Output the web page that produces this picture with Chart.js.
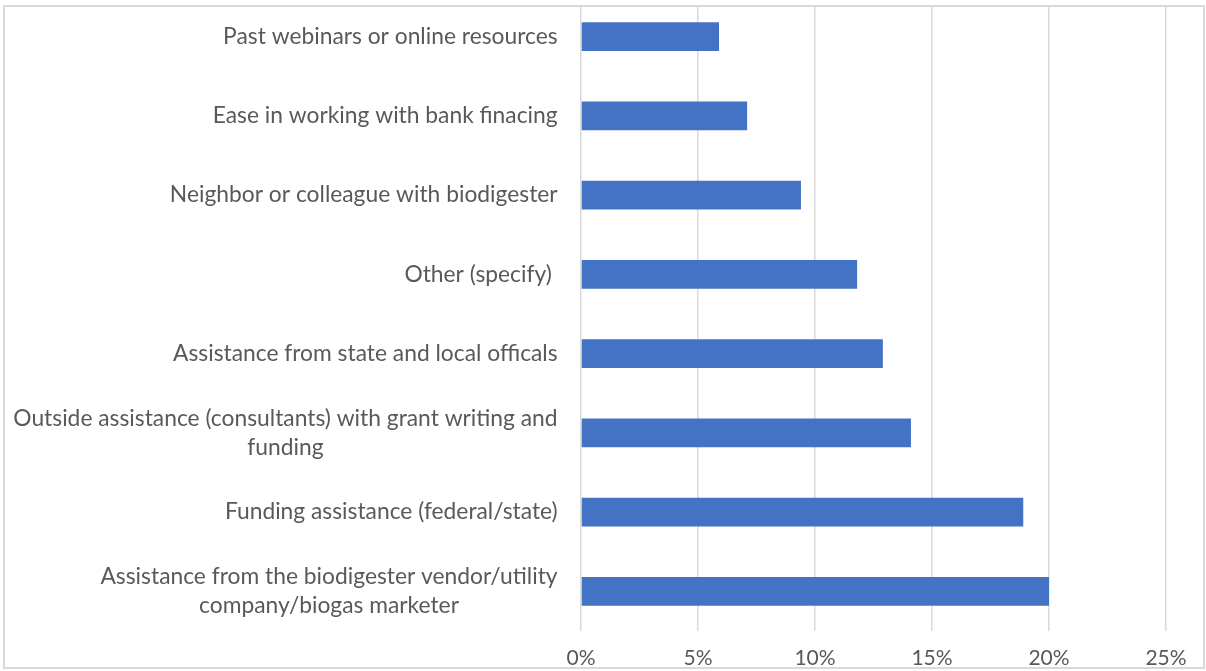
<!DOCTYPE html>
<html>
<head>
<meta charset="utf-8">
<script src="https://cdn.jsdelivr.net/npm/chart.js@4"></script>
<style>
  html, body { margin: 0; padding: 0; background: #ffffff; }
  #wrap { position: relative; width: 1206px; height: 671px; overflow: hidden; background: #fff; }
  #inner { position: absolute; left: 0; top: -4px; width: 1206px; height: 675px; }
  #topcover { position: absolute; left: 0; top: 0; width: 1206px; height: 5px; background: #fff; }
  #frame { position: absolute; left: 3px; top: 5px; width: 1198px; height: 660px; border: 2px solid #d9d9d9; pointer-events: none; }
</style>
</head>
<body>
<div id="wrap">
  <div id="inner"><canvas id="c"></canvas></div>
  <div id="topcover"></div>
  <div id="frame"></div>
</div>
<script>
const categories = [
  "Past webinars or online resources",
  "Ease in working with bank finacing",
  "Neighbor or colleague with biodigester",
  "Other (specify) ",
  "Assistance from state and local officals",
  ["Outside assistance (consultants) with grant writing and", "funding"],
  "Funding assistance (federal/state)",
  ["Assistance from the biodigester vendor/utility", "company/biogas marketer"]
];
const values = [5.9, 7.1, 9.4, 11.8, 12.9, 14.1, 18.9, 20.0];
const xTicks = [0, 5, 10, 15, 20, 25];

const FONT = "Lato, 'Open Sans', sans-serif";
const TEXT_COLOR = "#595959";

const labelPlugin = {
  id: 'blockLabels',
  afterDraw(chart) {
    const ctx = chart.ctx;
    const yScale = chart.scales.y;
    const rightX = 557.6;
    const lh = 29;
    ctx.save();
    ctx.font = "22.8px " + FONT;
    ctx.fillStyle = TEXT_COLOR;
    ctx.textBaseline = 'middle';
    categories.forEach((lab, i) => {
      const y = yScale.getPixelForValue(i);
      const lines = Array.isArray(lab) ? lab : [lab];
      if (lines.length === 1) {
        ctx.textAlign = 'right';
        ctx.fillText(lines[0], rightX, y);
      } else {
        const w = Math.max(...lines.map(l => ctx.measureText(l).width));
        const cx = rightX - w / 2;
        ctx.textAlign = 'center';
        lines.forEach((l, j) => {
          ctx.fillText(l, cx, y + (j - (lines.length - 1) / 2) * lh);
        });
      }
    });
    ctx.restore();
  }
};

new Chart(document.getElementById('c'), {
  type: 'bar',
  data: {
    labels: categories,
    datasets: [{
      data: values,
      backgroundColor: '#4472C4',
      borderWidth: 0,
      barPercentage: 0.36,
      categoryPercentage: 1.0
    }]
  },
  options: {
    indexAxis: 'y',
    responsive: true,
    maintainAspectRatio: false,
    animation: false,
    layout: { padding: { top: 1, left: 0, right: 40, bottom: 0 } },
    plugins: { legend: { display: false }, tooltip: { enabled: false } },
    scales: {
      x: {
        min: 0,
        max: 25,
        afterBuildTicks(scale) { scale.ticks = xTicks.map(v => ({ value: v })); },
        afterFit(scale) { scale.height = 40; },
        grid: { color: '#d9d9d9', lineWidth: 1.5, drawTicks: false },
        border: { display: false },
        ticks: {
          padding: 15,
          color: TEXT_COLOR,
          font: { family: FONT, size: 21 },
          callback: v => v + '%'
        }
      },
      y: {
        afterFit(scale) { scale.width = 581; },
        grid: { display: false },
        border: { display: false },
        ticks: { display: false }
      }
    }
  },
  plugins: [labelPlugin]
});
</script>
</body>
</html>
